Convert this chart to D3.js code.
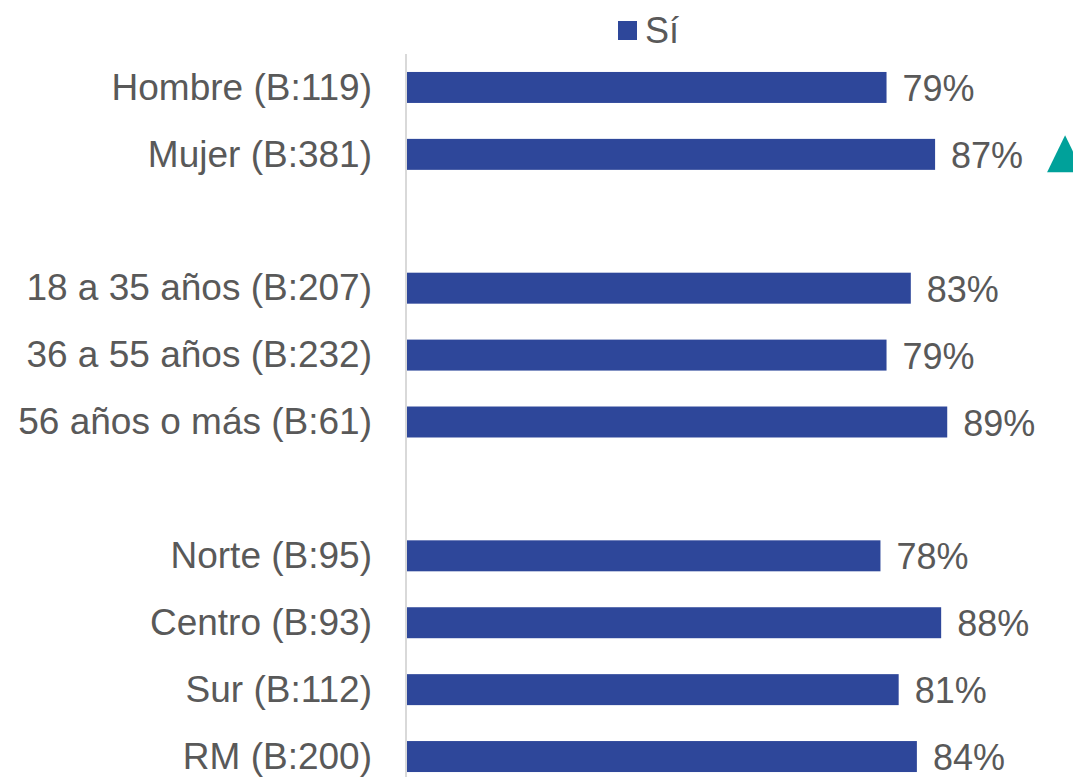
<!DOCTYPE html>
<html>
<head>
<meta charset="utf-8">
<script src="https://cdn.jsdelivr.net/npm/d3@7"></script>
<style>
    html, body { margin: 0; padding: 0; background: #fff; overflow: hidden; }
    #chart { width: 1073px; height: 777px; }
    text { font-family: "Liberation Sans", Arial, sans-serif; fill: #595959; }
</style>
</head>
<body>
<div id="chart"></div>
<script>
//Datos
let categorias = ['Hombre (B:119)', 'Mujer (B:381)', '', '18 a 35 años (B:207)', '36 a 55 años (B:232)', '56 años o más (B:61)', ' ', 'Norte (B:95)', 'Centro (B:93)', 'Sur (B:112)', 'RM (B:200)'];
let valores = [79, 87, null, 83, 79, 89, null, 78, 88, 81, 84];
let sube = [false, true, false, false, false, false, false, false, false, false, false];
let serie = 'Sí';

//Colores
let bar_color = '#2E479A';
let up_color = '#00A19A';

let svg = d3.select('#chart')
    .append('svg')
    .attr('width', 1073)
    .attr('height', 777);

//Ejes
let x = d3.scaleLinear()
    .domain([0, 100])
    .range([407, 1014]);

let y = d3.scaleBand()
    .domain(categorias)
    .range([54, 790])
    .paddingInner(0.537)
    .paddingOuter(0.2685);

let data = categorias.map(function(d, i) { return {cat: d, valor: valores[i], sube: sube[i]}; });
let conDatos = data.filter(function(d) { return d.valor != null; });

//Línea del eje
svg.append('line')
    .attr('x1', 406).attr('x2', 406)
    .attr('y1', 54).attr('y2', 790)
    .style('stroke', '#d9d9d9')
    .style('stroke-width', 2);

//Etiquetas de categoría
let yAxis = function(g) {
    g.call(d3.axisLeft(y).tickSize(0).tickPadding(0))
    g.call(function(g) { g.select('.domain').remove() })
    g.call(function(g) {
        g.selectAll('.tick text')
            .attr('x', -34)
            .attr('dy', '0.33em')
            .style('font-size', '37px')
            .style('font-family', '"Liberation Sans", Arial, sans-serif')
            .style('fill', '#595959')
    });
}

svg.append('g')
    .attr('transform', 'translate(' + 406 + ',0)')
    .call(yAxis);

//Barras
svg.selectAll('.bar')
    .data(conDatos)
    .enter()
    .append('rect')
    .attr('class', 'bar')
    .attr('x', x(0))
    .attr('y', function(d) { return y(d.cat); })
    .attr('width', function(d) { return x(d.valor) - x(0); })
    .attr('height', y.bandwidth())
    .style('fill', bar_color);

//Etiquetas de valor
svg.selectAll('.label')
    .data(conDatos)
    .enter()
    .append('text')
    .attr('class', 'label')
    .attr('x', function(d) { return x(d.valor) + 16; })
    .attr('y', function(d) { return y(d.cat) + y.bandwidth() / 2; })
    .attr('dy', '0.38em')
    .style('font-size', '36px')
    .text(function(d) { return d.valor + '%'; });

//Triángulo de subida
svg.selectAll('.up')
    .data(conDatos.filter(function(d) { return d.sube; }))
    .enter()
    .append('path')
    .attr('class', 'up')
    .attr('d', function(d) {
        let cx = x(d.valor) + 130;
        let cy = y(d.cat) + y.bandwidth() / 2;
        return 'M' + (cx - 18) + ',' + (cy + 18) + 'L' + cx + ',' + (cy - 19) + 'L' + (cx + 18) + ',' + (cy + 18) + 'Z';
    })
    .style('fill', up_color);

//Leyenda
let legend = svg.append('g');
legend.append('rect')
    .attr('x', 618).attr('y', 21)
    .attr('width', 19).attr('height', 19)
    .style('fill', bar_color);
legend.append('text')
    .attr('x', 645).attr('y', 43)
    .style('font-size', '36px')
    .text(serie);
</script>
</body>
</html>
